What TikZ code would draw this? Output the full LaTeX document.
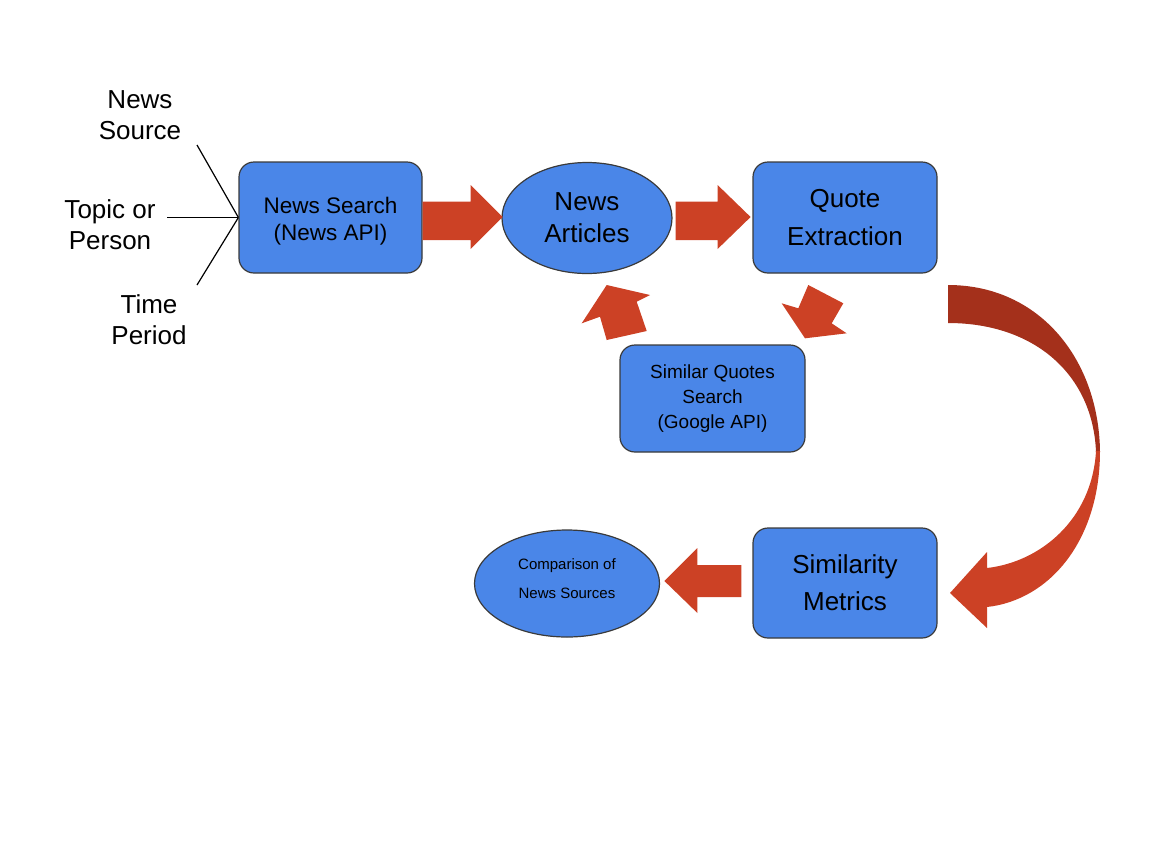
\documentclass[tikz,border=0pt]{standalone}
\usepackage{fontspec}
\setmainfont{Liberation Sans}
\usetikzlibrary{shapes.geometric}
\definecolor{gblue}{HTML}{4A86E8}
\definecolor{ared}{HTML}{CC4125}
\definecolor{adark}{HTML}{A4301B}
\definecolor{bordergray}{HTML}{3A3A3A}
\tikzset{
  box/.style={draw=bordergray, line width=0.6pt, fill=gblue, rounded corners=7.5pt,
    align=center, inner sep=0pt, text=black},
  oval/.style={ellipse, draw=bordergray, line width=0.6pt, fill=gblue,
    align=center, inner sep=0pt, text=black},
  lbl/.style={align=center, inner sep=0pt, text=black, font=\fontsize{13}{15.5}\selectfont},
  inline/.style={draw=black, line width=0.6pt},
  blockarrow/.style={fill=ared, draw=none}
}
\begin{document}
\begin{tikzpicture}[x=0.5pt,y=-0.5pt]
\useasboundingbox (0,0) rectangle (1152,864);

% input labels
\node[lbl] (src) at (140,115) {News\\Source};
\node[lbl] (top) at (110,225) {Topic or\\Person};
\node[lbl] (tim) at (149,320) {Time\\Period};

% main nodes
\node[box, minimum width=91.5pt, minimum height=55.5pt,
      font=\fontsize{11.25}{13.5}\selectfont] (ns) at (330.5,217.5)
      {\rule{0pt}{11.7pt}News Search\\(News API)};
\node[oval, minimum width=85pt, minimum height=55.5pt,
      font=\fontsize{13}{16}\selectfont] (na) at (587,218) {News\\Articles};
\node[box, minimum width=92pt, minimum height=55.5pt,
      font=\fontsize{13}{19}\selectfont] (qe) at (845,217.5) {Quote\\Extraction};
\node[box, minimum width=92.5pt, minimum height=53.5pt,
      font=\fontsize{9.5}{12.5}\selectfont] (sq) at (712.5,398.5) {Similar Quotes\\Search\\(Google API)};
\node[box, minimum width=92pt, minimum height=55pt,
      font=\fontsize{13}{18.5}\selectfont] (sm) at (845,583) {Similarity\\Metrics};
\node[oval, minimum width=92.5pt, minimum height=53.5pt,
      font=\fontsize{7.5}{14.5}\selectfont] (cmp) at (567,583.5)
      {Comparison of\\News Sources\rule[-5pt]{0pt}{5pt}};

% input lines
\coordinate (in1) at (197,145);
\coordinate (in2) at (167,217.5);
\coordinate (in3) at (197,285);
\draw[inline] (in1) -- (ns.west);
\draw[inline] (in2) -- (ns.west);
\draw[inline] (in3) -- (ns.west);

% block arrows between nodes
\fill[blockarrow] (ns.east) ++(0,-16) -- ++(48,0) -- ++(0,-16.5) -- ++(32,32)
  -- ++(-32,32) -- ++(0,-9) -- ++(-48,0) -- cycle;
\fill[blockarrow] (na.east) ++(3,-16.5) -- ++(42,0) -- ++(0,-16.5) -- ++(33,32)
  -- ++(-33,32) -- ++(0,-9) -- ++(-42,0) -- cycle;
\fill[blockarrow] (sm.west) ++(-11,-18) -- ++(-44,0) -- ++(0,-17) -- ++(-33,33)
  -- ++(33,32) -- ++(0,-16) -- ++(44,0) -- cycle;

% diagonal arrows (Similar Quotes -> News Articles, Quote Extraction -> Similar Quotes)
\fill[blockarrow] (606.7,285) -- (650,295) -- (636.7,301.7) -- (646.7,331)
  -- (606.7,340) -- (600,316.7) -- (581.7,323.3) -- cycle;
\fill[blockarrow] (808.3,285) -- (843.3,303.3) -- (831.7,323.3) -- (846.7,333.3)
  -- (805,338.3) -- (781.7,303.3) -- (798.3,308.3) -- cycle;

% curved arrow from Quote Extraction to Similarity Metrics
\fill[adark] (948,285) .. controls (1040,285) and (1099,360) .. (1100,452)
  -- (1096,452) .. controls (1093,375) and (1035,323) .. (948,323) -- cycle;
\fill[ared] (1100,451) .. controls (1100,540) and (1050,600) .. (987,607)
  -- (987,628) -- (950,593) -- (987,552) -- (987,568)
  .. controls (1040,562) and (1092,520) .. (1096,451) -- cycle;
\end{tikzpicture}
\end{document}
